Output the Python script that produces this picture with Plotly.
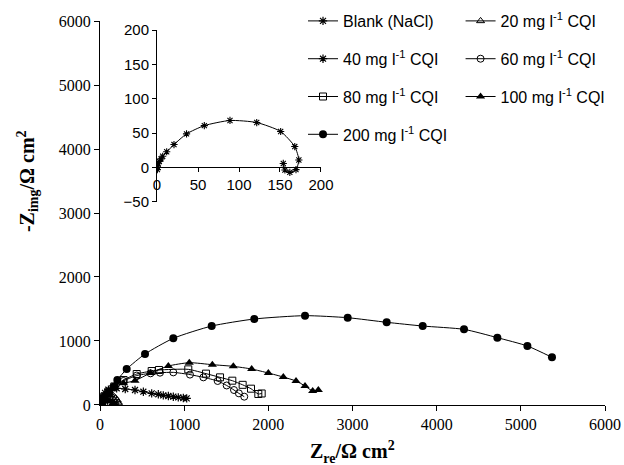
import plotly.graph_objects as go

# ---------------- data ----------------
blank_x = [0.4, 0.4, 1.6, 2.8, 4.9, 6.9, 11.8, 20.7, 36, 57.7, 89, 121.6, 150.8, 168, 173, 169.5, 162, 156, 154]
blank_y = [-3, 2, 5.5, 9, 12.6, 16.5, 23, 33.5, 49, 61, 68.5, 65.5, 52.5, 30.6, 11, -3, -7, -3.5, 6]

c20_x = [0, 5, 12, 25, 45, 70, 100, 130, 160, 185, 205, 218, 225]
c20_y = [0, 30, 65, 105, 140, 160, 168, 160, 140, 110, 75, 40, 15]

c40_x = [0, 10, 30, 60, 100, 150, 198, 300, 416, 515, 614, 693, 752, 812, 871, 930, 990, 1030]
c40_y = [0, 50, 120, 190, 240, 262, 262, 250, 234, 208, 182, 167, 151, 141, 130, 119, 109, 104]

c60_x = [0, 20, 50, 100, 170, 277, 436, 600, 713, 871, 1069, 1228, 1398, 1505, 1592, 1650, 1714]
c60_y = [0, 60, 130, 210, 290, 375, 460, 495, 505, 510, 475, 432, 375, 305, 234, 182, 130]

c80_x = [0, 20, 50, 100, 170, 280, 436, 614, 701, 1049, 1259, 1426, 1572, 1695, 1794, 1881, 1921]
c80_y = [0, 60, 130, 210, 290, 390, 484, 531, 547, 557, 490, 432, 380, 315, 255, 172, 180]

c100_x = [0, 20, 50, 100, 170, 280, 416, 600, 812, 1061, 1335, 1584, 1802, 2000, 2178, 2329, 2436, 2527, 2594]
c100_y = [0, 60, 130, 210, 290, 340, 380, 500, 609, 661, 630, 604, 562, 500, 437, 375, 297, 219, 234]

c200_x = [0, 25, 60, 110, 160, 206, 317, 535, 871, 1327, 1833, 2436, 2943, 3406, 3834, 4325, 4721, 5078, 5370]
c200_y = [0, 50, 110, 190, 280, 390, 562, 797, 1042, 1234, 1344, 1396, 1364, 1292, 1234, 1182, 1052, 922, 745]

main_xticks = [0, 1000, 2000, 3000, 4000, 5000, 6000]
main_yticks = [0, 1000, 2000, 3000, 4000, 5000, 6000]
inset_xticks = [0, 50, 100, 150, 200]
inset_yticks = [-50, 0, 50, 100, 150, 200]

# ---------------- figure ----------------
SERIF = "Liberation Serif"
SANS = "Liberation Sans"

series = [
    ("Blank (NaCl)", blank_x, blank_y, dict(symbol="asterisk-open", size=7, color="black", line=dict(width=1.2, color="black")), "legend"),
    ("20 mg l<sup>-1</sup> CQI", c20_x, c20_y, dict(symbol="triangle-up-open", size=7, color="black", line=dict(width=1, color="black")), "legend2"),
    ("40 mg l<sup>-1</sup> CQI", c40_x, c40_y, dict(symbol="asterisk-open", size=7, color="black", line=dict(width=1.2, color="black")), "legend"),
    ("60 mg l<sup>-1</sup> CQI", c60_x, c60_y, dict(symbol="circle-open", size=7, color="black", line=dict(width=1, color="black")), "legend2"),
    ("80 mg l<sup>-1</sup> CQI", c80_x, c80_y, dict(symbol="square-open", size=7, color="black", line=dict(width=1, color="black")), "legend"),
    ("100 mg l<sup>-1</sup> CQI", c100_x, c100_y, dict(symbol="triangle-up", size=8, color="black"), "legend2"),
    ("200 mg l<sup>-1</sup> CQI", c200_x, c200_y, dict(symbol="circle", size=8, color="black"), "legend"),
]

fig = go.Figure()
for i, (name, xs, ys, mk, lg) in enumerate(series):
    fig.add_trace(go.Scatter(
        x=xs, y=ys, name=name, mode="lines+markers",
        line=dict(color="black", width=1, shape="spline", smoothing=0.6),
        marker=mk, legend=lg, legendgroup="g%d" % i,
        xaxis="x", yaxis="y",
    ))

# inset
fig.add_trace(go.Scatter(
    x=blank_x, y=blank_y, mode="lines+markers", showlegend=False,
    line=dict(color="black", width=1, shape="spline", smoothing=0.6),
    marker=dict(symbol="asterisk-open", size=6, color="black", line=dict(width=1.1, color="black")),
    xaxis="x2", yaxis="y2",
))

tickfont_main = dict(family=SERIF, size=16, color="black")
tickfont_inset = dict(family=SANS, size=15, color="black")

fig.update_layout(
    width=624, height=465,
    font=dict(family=SERIF, size=16, color="black"),
    margin=dict(l=100, r=19, t=3, b=60, autoexpand=False),
    paper_bgcolor="white", plot_bgcolor="white",
    showlegend=True,
    xaxis=dict(
        range=[0, 6000], tickvals=main_xticks, showgrid=False, zeroline=False,
        showline=True, linecolor="black", linewidth=1, ticks="outside", ticklen=5,
        tickcolor="black", tickfont=tickfont_main, automargin=False,
    ),
    yaxis=dict(
        domain=[0, 0.9552],
        range=[0, 6000], tickvals=main_yticks, showgrid=False, zeroline=False,
        showline=True, linecolor="black", linewidth=1, ticks="outside", ticklen=5,
        tickcolor="black", tickfont=tickfont_main, automargin=False,
    ),
    xaxis2=dict(
        domain=[0.1129, 0.4376], range=[0, 200], tickvals=inset_xticks,
        anchor="free", position=0.592, showgrid=False, zeroline=False,
        showline=True, linecolor="black", linewidth=1, ticks="outside", ticklen=4,
        tickcolor="black", tickfont=tickfont_inset, automargin=False,
    ),
    yaxis2=dict(
        domain=[0.505, 0.9328], range=[-50, 200], tickvals=inset_yticks,
        anchor="x2", showgrid=False, zeroline=False,
        showline=True, linecolor="black", linewidth=1, ticks="outside", ticklen=4,
        tickcolor="black", tickfont=tickfont_inset, automargin=False,
    ),
    legend=dict(
        x=0.402, y=0.9975, xanchor="left", yanchor="top",
        font=dict(family=SANS, size=16, color="black"),
        bgcolor="rgba(0,0,0,0)", tracegroupgap=14, itemwidth=30,
    ),
    legend2=dict(
        x=0.714, y=0.9975, xanchor="left", yanchor="top",
        font=dict(family=SANS, size=16, color="black"),
        bgcolor="rgba(0,0,0,0)", tracegroupgap=14, itemwidth=30,
    ),
    annotations=[
        dict(
            text="<b>-Z<sub>img</sub>/Ω cm<sup>2</sup></b>", textangle=-90,
            xref="paper", yref="paper", x=-0.1426, y=0.557,
            xanchor="center", yanchor="middle", showarrow=False,
            font=dict(family=SERIF, size=20, color="black"),
        ),
        dict(
            text="<b>Z<sub>re</sub>/Ω cm<sup>2</sup></b>",
            xref="paper", yref="paper", x=0.5, y=-0.076,
            xanchor="center", yanchor="top", showarrow=False,
            font=dict(family=SERIF, size=20, color="black"),
        ),
    ],
)

fig.write_html("out.html")
